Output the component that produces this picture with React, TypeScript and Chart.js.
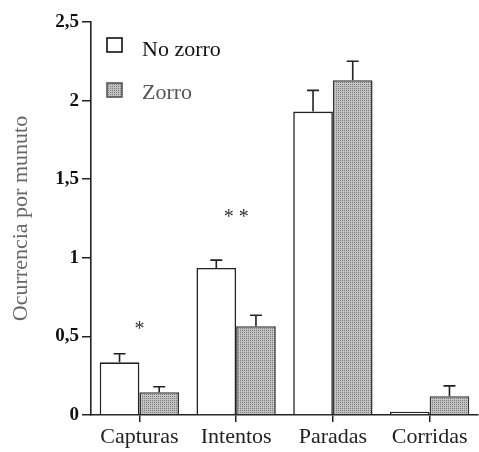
import React, { useEffect, useRef } from "react";
import { Chart, registerables } from "chart.js";

Chart.register(...registerables);

const categories = ["Capturas", "Intentos", "Paradas", "Corridas"];
const noZorro = [0.335, 0.935, 1.93, 0.02];
const noZorroErr = [0.055, 0.05, 0.135, 0];
const zorro = [0.145, 0.565, 2.13, 0.12];
const zorroErr = [0.035, 0.07, 0.12, 0.065];
const significance = ["*", "* *", "", ""];
const significanceY = [0.58, 1.29, 0, 0];
const yTicks = [0, 0.5, 1, 1.5, 2, 2.5];
const seriesNames = ["No zorro", "Zorro"];

function makePattern(): CanvasPattern | string {
  const c = document.createElement("canvas");
  c.width = 2;
  c.height = 2;
  const ctx = c.getContext("2d");
  if (!ctx) return "#a8a8a8";
  ctx.fillStyle = "#c2c2c2";
  ctx.fillRect(0, 0, 2, 2);
  ctx.fillStyle = "#7c7c7c";
  ctx.fillRect(0, 0, 1, 1);
  const p = ctx.createPattern(c, "repeat");
  return p || "#a8a8a8";
}

export default function App() {
  const ref = useRef<HTMLCanvasElement | null>(null);

  useEffect(() => {
    document.body.style.margin = "0";
    const canvas = ref.current;
    if (!canvas) return;
    const pattern = makePattern();
    const errs = [noZorroErr, zorroErr];

    const errorBars = {
      id: "errorBars",
      afterDatasetsDraw(chart: any) {
        const ctx = chart.ctx;
        const y = chart.scales.y;
        ctx.save();
        ctx.strokeStyle = "#222";
        ctx.lineWidth = 1.6;
        chart.data.datasets.forEach((ds: any, di: number) => {
          const meta = chart.getDatasetMeta(di);
          meta.data.forEach((bar: any, i: number) => {
            const e = errs[di][i];
            if (!e) return;
            const top = y.getPixelForValue(ds.data[i] + e);
            ctx.beginPath();
            ctx.moveTo(bar.x, bar.y);
            ctx.lineTo(bar.x, top);
            ctx.moveTo(bar.x - 6, top);
            ctx.lineTo(bar.x + 6, top);
            ctx.stroke();
          });
        });
        // significance marks
        ctx.fillStyle = "#333";
        ctx.font = "20px 'Liberation Serif', serif";
        ctx.textAlign = "center";
        ctx.textBaseline = "alphabetic";
        significance.forEach((s, i) => {
          if (!s) return;
          const px = chart.scales.x.getPixelForValue(i);
          const py = y.getPixelForValue(significanceY[i]);
          ctx.fillText(s, px, py + 11);
        });
        ctx.restore();
      },
    };

    const legendPlugin = {
      id: "customLegend",
      afterDraw(chart: any) {
        const ctx = chart.ctx;
        ctx.save();
        ctx.lineWidth = 1.6;
        ctx.strokeStyle = "#111";
        ctx.fillStyle = "#fff";
        ctx.fillRect(107, 38, 15, 14);
        ctx.strokeRect(107, 38, 15, 14);
        ctx.fillStyle = pattern as any;
        ctx.fillRect(107, 83, 15, 14);
        ctx.strokeStyle = "#555";
        ctx.strokeRect(107, 83, 15, 14);
        ctx.font = "22px 'Liberation Serif', serif";
        ctx.textAlign = "left";
        ctx.textBaseline = "alphabetic";
        ctx.fillStyle = "#111";
        ctx.fillText(seriesNames[0], 142, 56);
        ctx.fillStyle = "#555";
        ctx.fillText(seriesNames[1], 142, 99);
        ctx.restore();
      },
    };

    const chart = new Chart(canvas, {
      type: "bar",
      data: {
        labels: categories,
        datasets: [
          {
            label: seriesNames[0],
            data: noZorro,
            backgroundColor: "#ffffff",
            borderColor: "#222",
            borderWidth: 1.6,
            categoryPercentage: 0.82,
            barPercentage: 1.0,
          },
          {
            label: seriesNames[1],
            data: zorro,
            backgroundColor: pattern as any,
            borderColor: "#333",
            borderWidth: 1.6,
            categoryPercentage: 0.82,
            barPercentage: 1.0,
          },
        ],
      },
      options: {
        animation: false,
        responsive: false,
        devicePixelRatio: 1,
        layout: { padding: { top: 22, right: 1, left: 0, bottom: 0 } },
        plugins: {
          legend: { display: false },
          tooltip: { enabled: false },
        },
        scales: {
          x: {
            grid: {
              offset: false,
              drawOnChartArea: false,
              drawTicks: true,
              tickLength: 7,
              color: "#222",
              lineWidth: 1.5,
            },
            border: { display: true, color: "#222", width: 1.6 },
            ticks: {
              color: "#222",
              padding: 2,
              font: { family: "'Liberation Serif', serif", size: 22 },
            },
            afterFit(scale: any) {
              scale.height = 37;
            },
          },
          y: {
            min: 0,
            max: 2.5,
            afterBuildTicks(scale: any) {
              scale.ticks = yTicks.map((v) => ({ value: v }));
            },
            grid: {
              drawOnChartArea: false,
              drawTicks: true,
              tickLength: 9,
              color: "#222",
              lineWidth: 1.5,
            },
            border: { display: true, color: "#222", width: 1.6 },
            ticks: {
              color: "#111",
              padding: 3,
              font: { family: "'Liberation Serif', serif", size: 19, weight: "bold" },
              callback: (v: any) => String(v).replace(".", ","),
            },
            title: {
              display: true,
              text: "Ocurrencia por munuto",
              color: "#666",
              padding: { top: 8, bottom: 0 },
              font: { family: "'Liberation Serif', serif", size: 22 },
            },
            afterFit(scale: any) {
              scale.width = 91;
            },
          },
        },
      },
      plugins: [errorBars, legendPlugin],
    });

    return () => chart.destroy();
  }, []);

  return (
    <div style={{ width: 479, height: 452 }}>
      <canvas ref={ref} width={479} height={452} style={{ display: "block" }} />
    </div>
  );
}
